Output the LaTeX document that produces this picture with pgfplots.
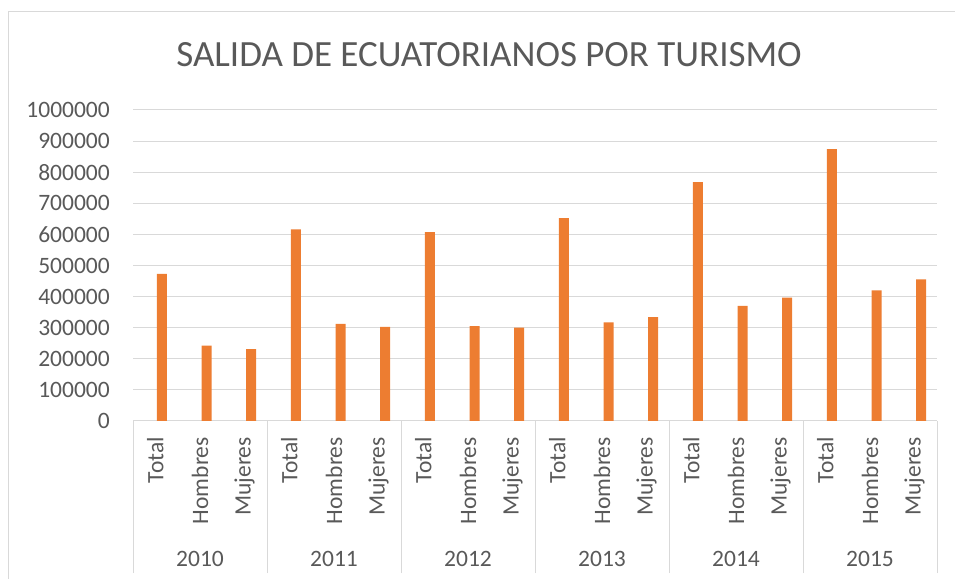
\documentclass[border=0pt]{standalone}
\usepackage{fontspec}
\setmainfont{Carlito}
\usepackage{pgfplots}
\pgfplotsset{compat=1.18}
\definecolor{barorange}{HTML}{ED7D31}
\definecolor{txtgray}{HTML}{595959}
\definecolor{gridgray}{HTML}{D9D9D9}

\begin{document}
\begin{tikzpicture}[x=1pt,y=1pt]
\path[use as bounding box] (0,0) rectangle (955,578);
% chart frame (runs off the right and bottom edges)
\draw[gridgray, line width=1pt] (8,-10) -- (8,566) -- (965,566);
\node[txtgray, font=\fontsize{37}{44}\selectfont] at (489,523) {SALIDA DE ECUATORIANOS POR TURISMO};
\begin{axis}[
 at={(133pt,157pt)}, anchor=south west,
 scale only axis, width=804pt, height=311pt,
 ybar, bar width=10pt, bar shift=6.5pt,
 xmin=-0.5, xmax=17.5, ymin=0, ymax=1000000,
 ytick={0,100000,200000,300000,400000,500000,600000,700000,800000,900000,1000000},
 scaled y ticks=false,
 y tick label style={/pgf/number format/.cd, fixed, 1000 sep={}, assume math mode=true},
 xtick={0,...,17},
 xticklabels={Total,Hombres,Mujeres,Total,Hombres,Mujeres,Total,Hombres,Mujeres,
 Total,Hombres,Mujeres,Total,Hombres,Mujeres,Total,Hombres,Mujeres},
 x tick label style={rotate=90, anchor=east},
 tick label style={font=\fontsize{23.5}{27}\selectfont, text=txtgray, inner sep=0pt},
 xticklabel shift=16pt, yticklabel shift=23pt,
 major tick length=0pt, tick pos=left,
 axis line style={draw=none},
 ymajorgrids, grid style={gridgray, line width=1pt},
 extra x ticks={-0.5,2.5,5.5,8.5,11.5,14.5,17.5},
 extra x tick labels={},
 extra x tick style={tick align=outside, major tick length=152pt,
 major tick style={draw=gridgray, line width=1pt}, xmajorgrids=false},
 clip=false,
]
\addplot[fill=barorange, draw=none] coordinates {
 (0,473000) (1,242500) (2,231000)
 (3,616000) (4,312000) (5,303000)
 (6,607000) (7,305000) (8,300000)
 (9,652000) (10,317000) (11,334000)
 (12,768000) (13,370000) (14,397000)
 (15,874000) (16,420000) (17,455000)
};
\pgfplotsinvokeforeach{0,...,5}{
 \node[txtgray, font=\fontsize{23.5}{27}\selectfont]
 at ([yshift=-138pt]axis cs:{3*#1+1},0) {\pgfmathparse{int(2010+#1)}\pgfmathresult};
}
\end{axis}
\end{tikzpicture}
\end{document}
